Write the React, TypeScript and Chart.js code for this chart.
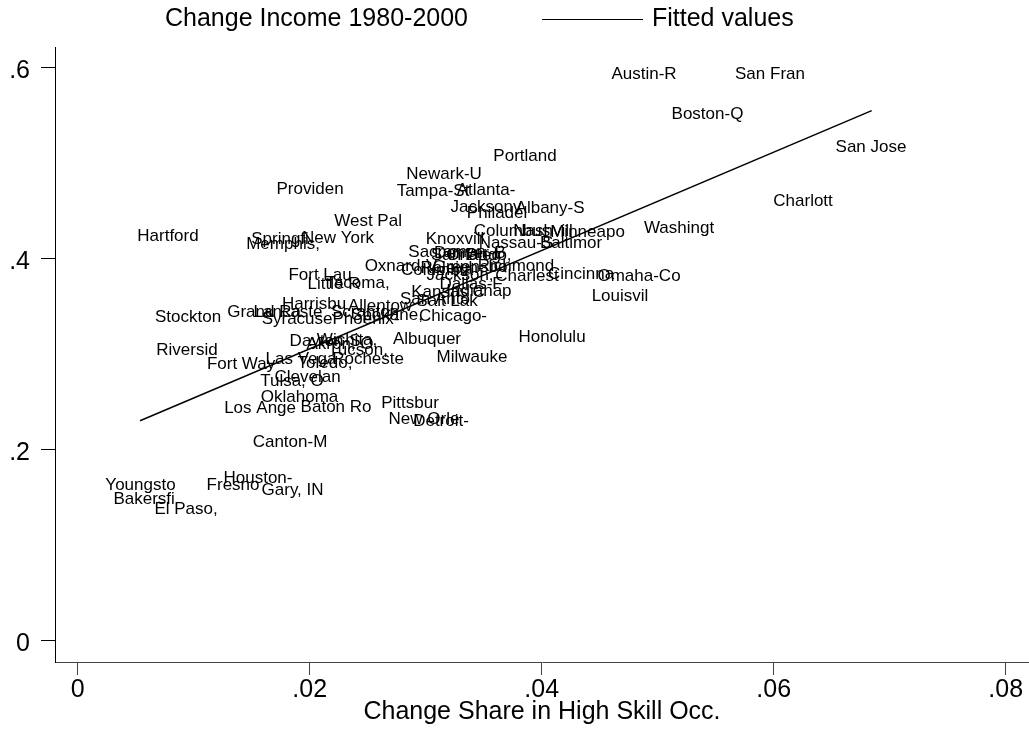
import React, { useEffect, useRef } from "react";
import { Chart, registerables } from "chart.js";

Chart.register(...registerables);

const FONT = '"Liberation Sans", Arial, Helvetica, sans-serif';

const cities = [
  "Austin-R", "San Fran", "Boston-Q", "San Jose", "Portland", "Newark-U", "Providen", "Tampa-St",
  "Atlanta-", "Charlott", "Jacksonv", "Albany-S", "Philadel", "West Pal", "Washingt", "Columbus",
  "Nashvill", "Minneapo", "Hartford", "New York", "Springfi", "Memphis,", "Knoxvill", "Nassau-S",
  "Baltimor", "Sacramen", "San Dieg", "Orlando,", "Denver-B", "Oxnard-V", "Columbia", "Raleigh-",
  "Greensbo", "Richmond", "Jackson,", "Charlest", "Cincinna", "Omaha-Co", "Fort Lau", "Little R",
  "Tacoma,", "Dallas-F", "Kansas C", "Indianap", "Louisvil", "San Anto", "Salt Lak", "Harrisbu",
  "Allentow", "Stockton", "Grand Ra", "Lancaste", "Syracuse", "Scranton", "Phoenix-", "Spokane,",
  "Chicago-", "Dayton-S", "Wichita,", "Akron, O", "Albuquer", "Honolulu", "Tucson,", "Riversid",
  "Milwauke", "Las Vega", "Toledo,", "Rocheste", "Fort Way", "Clevelan", "Tulsa, O", "Oklahoma",
  "Baton Ro", "Los Ange", "Pittsbur", "New Orle", "Detroit-", "Canton-M", "Houston-", "Youngsto",
  "Fresno", "Gary, IN", "Bakersfi", "El Paso,",
];

const shareChange = [
  0.04882, 0.05968, 0.05429, 0.06839, 0.03856, 0.03158, 0.02003, 0.03063,
  0.0352, 0.06253, 0.0352, 0.04072, 0.03615, 0.02503, 0.05184, 0.03744,
  0.04011, 0.04395, 0.00778, 0.02244, 0.01744, 0.0177, 0.03253, 0.03778,
  0.04253, 0.03184, 0.03347, 0.03459, 0.03382, 0.02787, 0.03097, 0.03227,
  0.03382, 0.03778, 0.03296, 0.03873, 0.04339, 0.04839, 0.02089, 0.02209,
  0.02412, 0.03391, 0.03192, 0.03459, 0.04675, 0.0308, 0.03184, 0.02037,
  0.02606, 0.00951, 0.01606, 0.01813, 0.01891, 0.02477, 0.02485, 0.02666,
  0.03235, 0.02132, 0.02322, 0.02261, 0.03011, 0.04089, 0.02416, 0.00942,
  0.03399, 0.01925, 0.02132, 0.02503, 0.01408, 0.01981, 0.01847, 0.01912,
  0.02227, 0.01572, 0.02865, 0.02985, 0.03132, 0.0183, 0.01554, 0.00541,
  0.01339, 0.01852, 0.00572, 0.00934,
];

const incomeChange = [
  0.593, 0.593, 0.5518, 0.5172, 0.5074, 0.4889, 0.4732, 0.4707,
  0.4718, 0.4602, 0.454, 0.4533, 0.4481, 0.4393, 0.4324, 0.4288,
  0.4288, 0.4278, 0.4236, 0.4215, 0.4201, 0.4149, 0.4201, 0.4167,
  0.4159, 0.4065, 0.4034, 0.4034, 0.4054, 0.3918, 0.3876, 0.3897,
  0.3908, 0.3918, 0.3824, 0.3817, 0.3834, 0.3817, 0.3824, 0.373,
  0.374, 0.373, 0.3646, 0.3656, 0.3609, 0.3573, 0.3552, 0.352,
  0.3502, 0.3391, 0.3436, 0.3436, 0.3363, 0.3436, 0.3363, 0.3405,
  0.3398, 0.3136, 0.3146, 0.3101, 0.3161, 0.3178, 0.3038, 0.3041,
  0.2968, 0.2944, 0.2909, 0.2944, 0.2892, 0.2763, 0.2717, 0.2553,
  0.2448, 0.2438, 0.2483, 0.2323, 0.2298, 0.2078, 0.1697, 0.1627,
  0.1624, 0.1572, 0.1477, 0.138,
];

const fittedX = [0.00537, 0.06845];
const fittedY = [0.2305, 0.5553];

const xTicks = [0, 0.02, 0.04, 0.06, 0.08];
const xTickLabels = ["0", ".02", ".04", ".06", ".08"];
const yTicks = [0, 0.2, 0.4, 0.6];
const yTickLabels = ["0", ".2", ".4", ".6"];

const seriesLabel = "Change Income 1980-2000";
const fitLabel = "Fitted values";
const xTitle = "Change Share in High Skill Occ.";

const cityLabelPlugin = {
  id: "cityLabels",
  afterDatasetDraw(chart: any, args: any) {
    if (args.index !== 0) return;
    const ctx = chart.ctx;
    const meta = chart.getDatasetMeta(0);
    ctx.save();
    ctx.font = `17px ${FONT}`;
    ctx.fillStyle = "#000";
    ctx.textAlign = "center";
    ctx.textBaseline = "middle";
    meta.data.forEach((el: any, i: number) => {
      ctx.fillText(cities[i], el.x, el.y);
    });
    ctx.restore();
  },
};

const legendPlugin = {
  id: "stataLegend",
  afterDraw(chart: any) {
    const ctx = chart.ctx;
    const ds = chart.data.datasets;
    ctx.save();
    ctx.font = `25px ${FONT}`;
    ctx.fillStyle = "#000";
    ctx.textAlign = "left";
    ctx.textBaseline = "middle";
    ctx.fillText(ds[0].label, 165, 19);
    ctx.strokeStyle = "#000";
    ctx.lineWidth = 1.2;
    ctx.beginPath();
    ctx.moveTo(542, 19.5);
    ctx.lineTo(643, 19.5);
    ctx.stroke();
    ctx.fillText(ds[1].label, 652, 19);
    ctx.restore();
  },
};

export default function App() {
  const canvasRef = useRef<HTMLCanvasElement | null>(null);

  useEffect(() => {
    const canvas = canvasRef.current;
    if (!canvas) return;
    const chart = new Chart(canvas, {
      type: "scatter",
      data: {
        datasets: [
          {
            label: seriesLabel,
            data: shareChange.map((x, i) => ({ x, y: incomeChange[i] })),
            pointRadius: 0,
            pointHoverRadius: 0,
            showLine: false,
            order: 2,
          },
          {
            label: fitLabel,
            data: fittedX.map((x, i) => ({ x, y: fittedY[i] })),
            showLine: true,
            pointRadius: 0,
            borderColor: "#000",
            borderWidth: 1.5,
            fill: false,
            order: 1,
          },
        ],
      },
      options: {
        responsive: false,
        animation: false,
        devicePixelRatio: 1,
        layout: { padding: { top: 47, left: 0, right: 0, bottom: 0 } },
        plugins: {
          legend: { display: false },
          tooltip: { enabled: false },
        },
        scales: {
          x: {
            type: "linear",
            min: -0.00196,
            max: 0.08201,
            afterBuildTicks: (s: any) => {
              s.ticks = xTicks.map((v) => ({ value: v }));
            },
            ticks: {
              callback: (_v: any, i: number) => xTickLabels[i] ?? "",
              font: { family: FONT, size: 25, lineHeight: 1 },
              color: "#000",
              padding: 3,
              maxRotation: 0,
              autoSkip: false,
            },
            grid: {
              drawOnChartArea: false,
              drawTicks: true,
              tickLength: 13,
              color: "#444",
              lineWidth: 1,
            },
            border: { display: true, color: "#444", width: 1 },
            title: {
              display: true,
              text: xTitle,
              color: "#000",
              font: { family: FONT, size: 25, lineHeight: 1 },
              padding: { top: 0, bottom: 4 },
            },
            afterFit: (s: any) => {
              s.height = 67;
              s.paddingLeft = 0;
              s.paddingRight = 0;
            },
          },
          y: {
            type: "linear",
            min: -0.0223,
            max: 0.622,
            afterBuildTicks: (s: any) => {
              s.ticks = yTicks.map((v) => ({ value: v }));
            },
            ticks: {
              callback: (_v: any, i: number) => yTickLabels[i] ?? "",
              font: { family: FONT, size: 25, lineHeight: 1 },
              color: "#000",
              padding: 11,
              labelOffset: 3,
              autoSkip: false,
            },
            grid: {
              drawOnChartArea: false,
              drawTicks: true,
              tickLength: 14,
              color: "#000",
              lineWidth: 1,
            },
            border: { display: true, color: "#000", width: 1 },
            afterFit: (s: any) => {
              s.width = 55;
              s.paddingTop = 0;
              s.paddingBottom = 0;
            },
          },
        },
      },
      plugins: [cityLabelPlugin, legendPlugin],
    });
    return () => chart.destroy();
  }, []);

  return (
    <div
      style={{
        position: "fixed",
        left: 0,
        top: 0,
        width: 1029,
        height: 729,
        background: "#fff",
      }}
    >
      <canvas ref={canvasRef} width={1029} height={729} style={{ display: "block" }} />
    </div>
  );
}
